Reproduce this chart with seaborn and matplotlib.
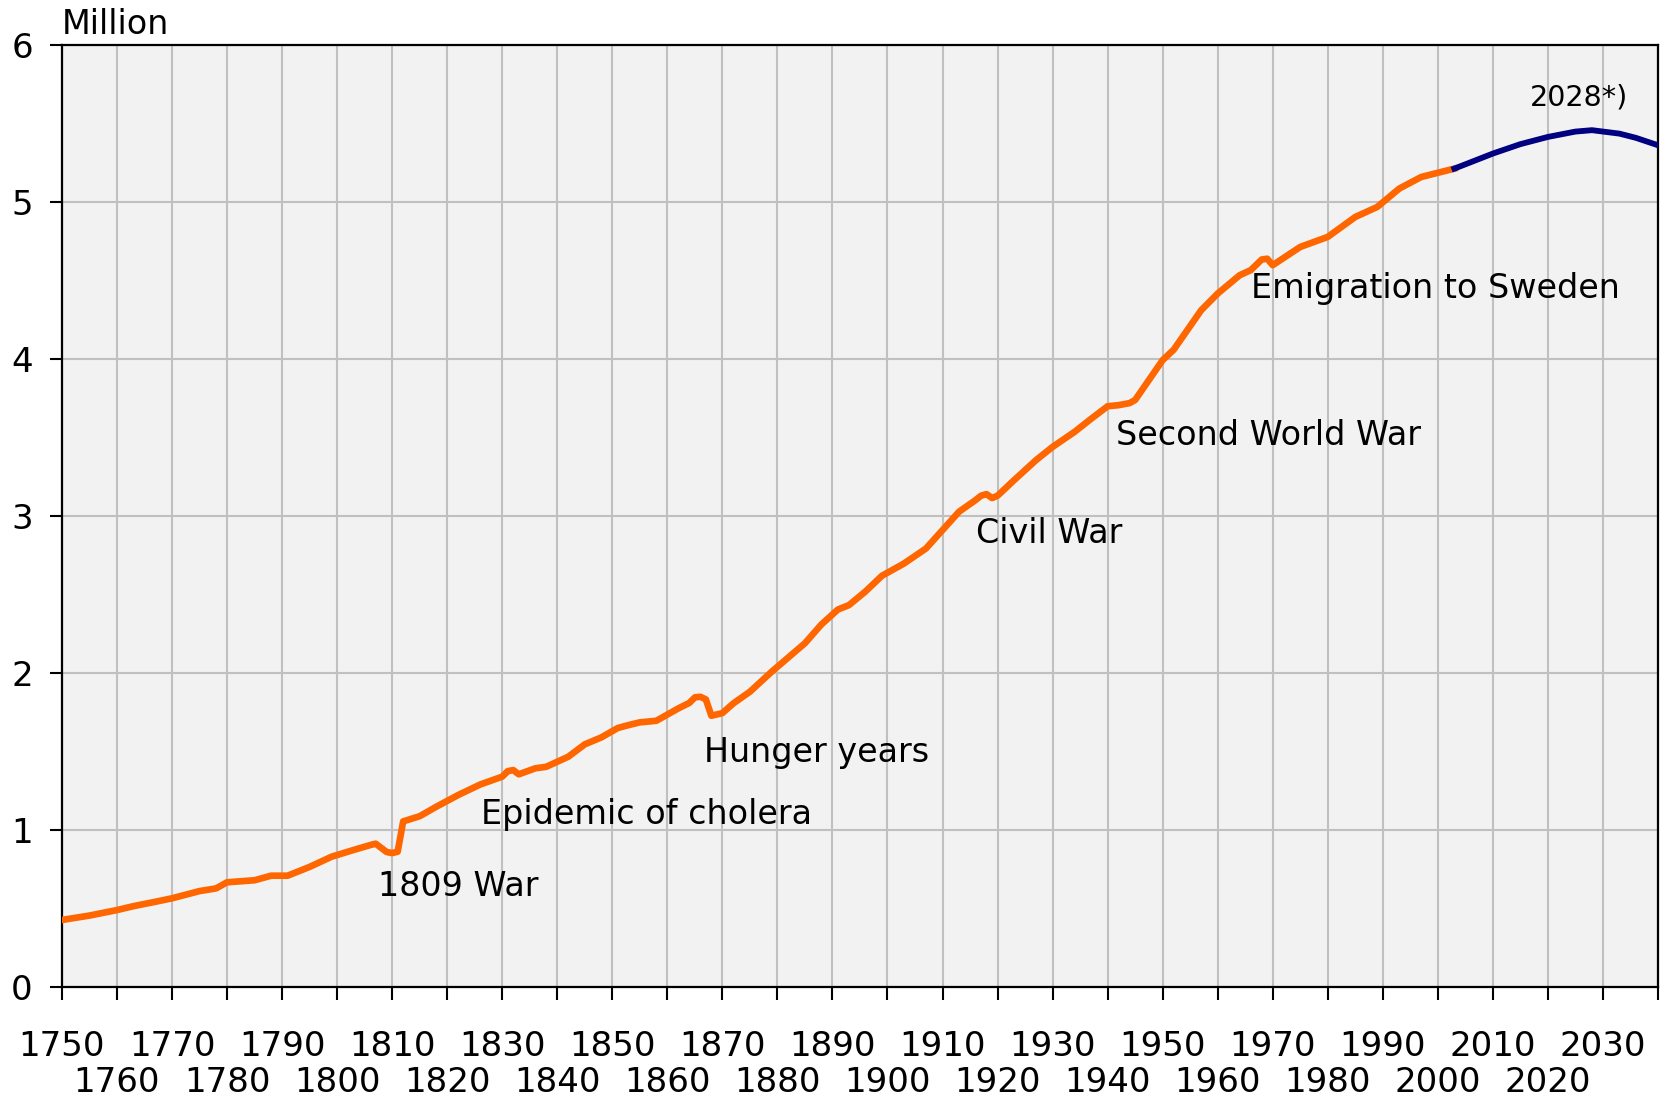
import numpy as np
import pandas as pd
import matplotlib
matplotlib.use("Agg")
import matplotlib.pyplot as plt
import seaborn as sns

# Population of Finland, million
hist_years = [1750, 1755, 1760, 1763, 1767, 1770, 1775, 1778, 1780, 1785, 1788, 1791,
              1795, 1799, 1803, 1806, 1807, 1809, 1810, 1811, 1812, 1815, 1818, 1822,
              1826, 1830, 1831, 1832, 1833, 1836, 1838, 1842, 1845, 1848, 1851, 1853,
              1855, 1858, 1862, 1864, 1865, 1866, 1867, 1868, 1870, 1872, 1875, 1879,
              1882, 1885, 1888, 1891, 1893, 1896, 1899, 1903, 1907, 1910, 1913, 1916,
              1917, 1918, 1919, 1920, 1923, 1927, 1930, 1934, 1937, 1940, 1942, 1944,
              1945, 1950, 1952, 1957, 1960, 1964, 1966, 1968, 1969, 1970, 1975, 1980,
              1985, 1989, 1993, 1997, 2003]
hist_pop = [0.427, 0.455, 0.490, 0.515, 0.543, 0.565, 0.611, 0.628, 0.667, 0.680, 0.709, 0.709,
            0.765, 0.830, 0.873, 0.904, 0.913, 0.860, 0.853, 0.862, 1.055, 1.088, 1.148, 1.223,
            1.290, 1.340, 1.375, 1.382, 1.355, 1.393, 1.403, 1.467, 1.546, 1.590, 1.650, 1.669,
            1.686, 1.696, 1.775, 1.810, 1.845, 1.849, 1.832, 1.728, 1.745, 1.807, 1.881, 2.010,
            2.100, 2.190, 2.310, 2.405, 2.433, 2.520, 2.620, 2.698, 2.794, 2.911, 3.028, 3.102,
            3.130, 3.140, 3.115, 3.130, 3.229, 3.357, 3.441, 3.537, 3.620, 3.700, 3.707, 3.720,
            3.740, 3.994, 4.060, 4.312, 4.418, 4.535, 4.567, 4.635, 4.640, 4.599, 4.715, 4.779,
            4.906, 4.970, 5.087, 5.161, 5.214]

proj_years = [2003, 2010, 2015, 2020, 2025, 2028, 2033, 2036, 2040]
proj_pop = [5.214, 5.310, 5.370, 5.416, 5.450, 5.459, 5.437, 5.410, 5.363]

# staggered year labels: upper row and lower row
x_ticks_upper = list(range(1750, 2031, 20))
x_ticks_lower = list(range(1760, 2041, 20))
x_labels_lower = [str(y) if y <= 2020 else "" for y in x_ticks_lower]
y_ticks = [0, 1, 2, 3, 4, 5, 6]

events = ["1809 War", "Epidemic of cholera", "Hunger years", "Civil War",
          "Second World War", "Emigration to Sweden"]
event_x = [1807.5, 1826.2, 1866.7, 1916.1, 1941.6, 1966.0]
event_y = [0.643, 1.10, 1.497, 2.888, 3.512, 4.448]

hist = pd.DataFrame({"year": hist_years, "pop": hist_pop})
proj = pd.DataFrame({"year": proj_years, "pop": proj_pop})

plt.rcParams["font.family"] = ["DejaVu Sans"]

fig = plt.figure(figsize=(16.7, 11.04), dpi=100)
ax = fig.add_axes([0.0371, 0.106, 0.9557, 0.853])
ax.set_facecolor("#f2f2f2")

sns.lineplot(data=hist, x="year", y="pop", color="#ff6600", linewidth=4.8, ax=ax, zorder=3)
sns.lineplot(data=proj, x="year", y="pop", color="#000080", linewidth=4.2, ax=ax, zorder=3)

ax.set_xlim(1750, 2040)
ax.set_ylim(0, 6)
ax.set_xticks(x_ticks_upper)
ax.set_xticklabels([str(y) for y in x_ticks_upper])
ax.set_xticks(x_ticks_lower, minor=True)
ax.set_xticklabels(x_labels_lower, minor=True)
ax.set_yticks(y_ticks)
ax.set_xlabel("")
ax.set_ylabel("")

ax.grid(True, which="both", axis="x", color="#c0c0c0", linewidth=1.5)
ax.grid(True, which="major", axis="y", color="#c0c0c0", linewidth=1.5)
ax.set_axisbelow(True)
for s in ax.spines.values():
    s.set_color("black")
    s.set_linewidth(1.6)

ax.tick_params(axis="x", which="major", length=9, width=1.5, pad=22, labelsize=24.5)
ax.tick_params(axis="x", which="minor", length=9, width=1.5, pad=48, labelsize=24.5)
ax.tick_params(axis="y", length=9, width=1.5, pad=12, labelsize=24.5)

for label, ex, ey in zip(events, event_x, event_y):
    ax.text(ex, ey, label, fontsize=24, ha="left", va="center", zorder=4)
ax.text(2016.7, 5.67, "2028*)", fontsize=20.5, ha="left", va="center", zorder=4)

ax.text(0, 1.004, "Million", transform=ax.transAxes, fontsize=24, ha="left", va="bottom")

fig.savefig("out.png", dpi=100)
